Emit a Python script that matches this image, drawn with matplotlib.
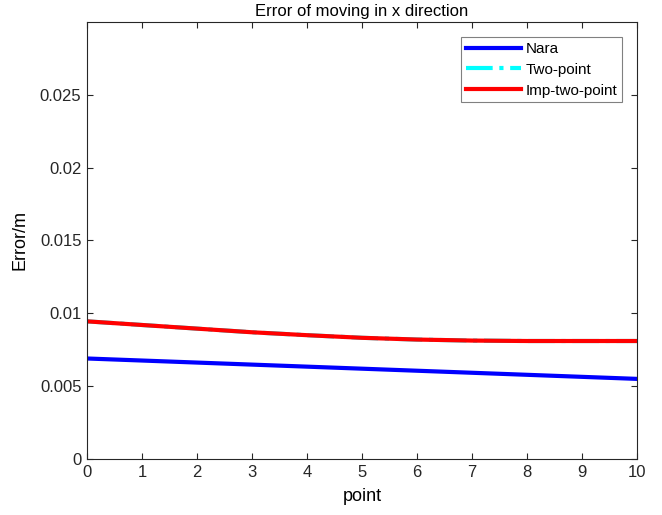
import numpy as np
import matplotlib
matplotlib.use('Agg')
import matplotlib.pyplot as plt

plt.rcParams['font.family'] = ['Liberation Sans', 'DejaVu Sans']

# data
points = [0, 1, 2, 3, 4, 5, 6, 7, 8, 9, 10]
nara = [0.0069, 0.00676, 0.00662, 0.00648, 0.00634, 0.0062, 0.00606, 0.00592, 0.00578, 0.00564, 0.0055]
two_point = [0.00945, 0.0092, 0.00895, 0.0087, 0.0085, 0.00832, 0.0082, 0.00813, 0.0081, 0.0081, 0.0081]
imp_two_point = [0.00945, 0.0092, 0.00895, 0.0087, 0.0085, 0.00832, 0.0082, 0.00813, 0.0081, 0.0081, 0.0081]
yticks = [0, 0.005, 0.01, 0.015, 0.02, 0.025]
ytick_labels = ['0', '0.005', '0.01', '0.015', '0.02', '0.025']

fig = plt.figure(figsize=(6.62, 5.15), dpi=100)
ax = fig.add_axes([87/662, 1 - 459/515, 550/662, 437/515])

ax.plot(points, nara, color='#0000ff', lw=3, label='Nara')
ax.plot(points, two_point, color='#00ffff', lw=3, ls='-.', label='Two-point')
ax.plot(points, imp_two_point, color='#ff0000', lw=3, label='Imp-two-point')

ax.set_xlim(0, 10)
ax.set_ylim(0, 0.03)
ax.set_xticks(points)
ax.set_yticks(yticks)
ax.set_yticklabels(ytick_labels)
ax.tick_params(direction='in', length=4, labelsize=12, top=True, right=True, colors='#262626', pad=4)
for s in ax.spines.values():
    s.set_color('#262626')
    s.set_linewidth(0.8)

ax.set_title('Error of moving in x direction', fontsize=12, pad=4)
ax.set_xlabel('point', fontsize=13, labelpad=6)
ax.set_ylabel('Error/m', fontsize=13, labelpad=8)

leg = ax.legend(loc='upper right', fontsize=11, fancybox=False, framealpha=1,
                edgecolor='#808080', handlelength=3.6, borderpad=0.3, labelspacing=0.45,
                handletextpad=0.3, borderaxespad=1.0)
leg.get_frame().set_linewidth(0.8)

fig.savefig('out.png', dpi=100)
